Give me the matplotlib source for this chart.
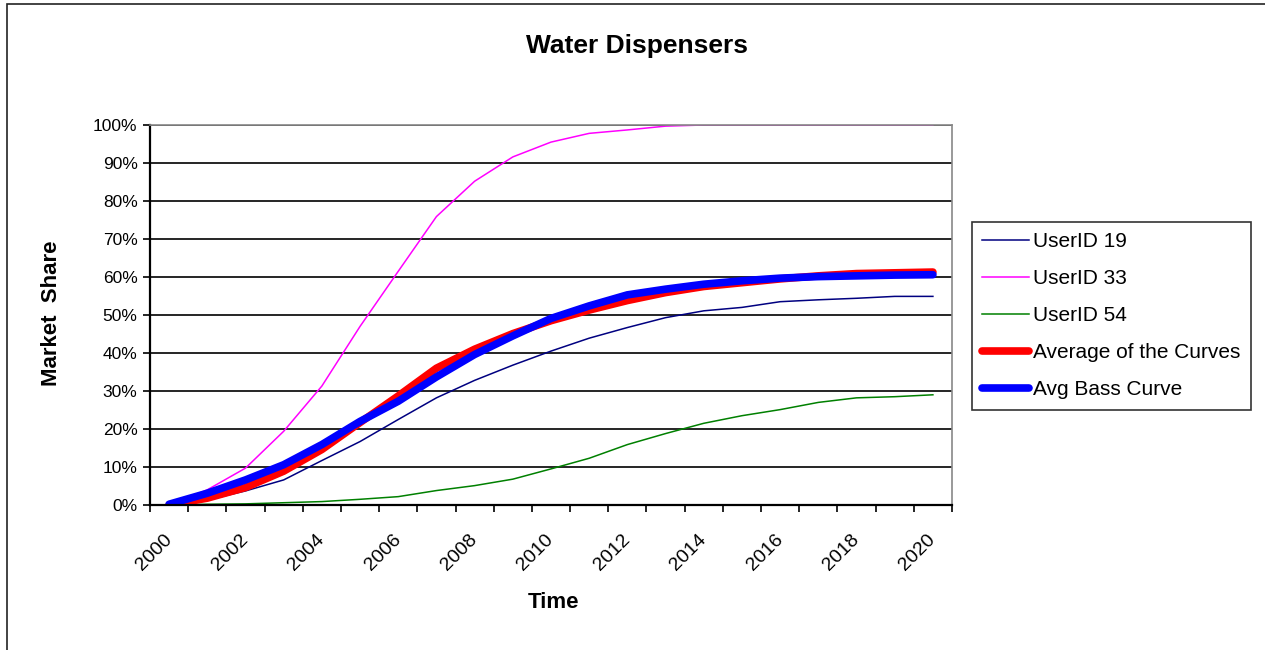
import numpy as np
import matplotlib
matplotlib.use("Agg")
import matplotlib.pyplot as plt
from matplotlib.patches import Rectangle
from matplotlib.ticker import PercentFormatter

plt.rcParams['font.family'] = ['Liberation Sans', 'DejaVu Sans']

years = list(range(2000, 2021))

user19 = [0.0, 1.3, 3.7, 6.6, 11.7, 16.7, 22.5, 28.2, 32.8, 36.8, 40.5,
          43.9, 46.7, 49.3, 51.1, 52.0, 53.5, 54.0, 54.4, 54.9, 54.9]
user33 = [0.0, 4.0, 9.7, 19.4, 31.3, 47.0, 61.5, 75.9, 85.2, 91.6, 95.5,
          97.8, 98.7, 99.7, 100.0, 100.0, 100.0, 100.0, 100.0, 100.0, 100.0]
user54 = [0.0, 0.2, 0.3, 0.6, 0.9, 1.5, 2.2, 3.8, 5.1, 6.8, 9.5,
          12.3, 15.9, 18.8, 21.5, 23.5, 25.1, 27.0, 28.2, 28.5, 29.0]
avg_curves = [0.0, 1.8, 4.6, 8.9, 14.6, 21.7, 28.7, 36.0, 41.0, 45.1, 48.5,
              51.3, 53.8, 55.9, 57.5, 58.5, 59.5, 60.3, 60.9, 61.1, 61.3]
avg_bass = [0.2, 3.1, 6.6, 10.6, 15.9, 22.0, 27.3, 33.7, 39.6, 44.5, 49.1,
            52.4, 55.3, 56.8, 58.1, 59.0, 59.7, 60.1, 60.3, 60.5, 60.6]

W, H = 1265, 650
fig = plt.figure(figsize=(W / 100, H / 100), dpi=100)
fig.patch.set_facecolor('white')

# outer chart border (Excel chart area)
fig.patches.append(Rectangle((7 / W, -0.1), 2, 1 - 3.5 / H + 0.1, transform=fig.transFigure,
                             fill=False, ec='#222222', lw=1.2, clip_on=False))

ax = fig.add_axes([150 / W, (H - 505) / H, 802 / W, 380 / H])
x = np.arange(len(years))

ax.plot(x, user19, color='#000080', lw=1.1, label='UserID 19')
ax.plot(x, user33, color='#FF00FF', lw=1.1, label='UserID 33')
ax.plot(x, user54, color='#008000', lw=1.1, label='UserID 54')
ax.plot(x, avg_curves, color='#FF0000', lw=5.5, solid_capstyle='round',
        solid_joinstyle='round', label='Average of the Curves')
ax.plot(x, avg_bass, color='#0000FF', lw=5.5, solid_capstyle='round',
        solid_joinstyle='round', label='Avg Bass Curve')

ax.set_xlim(-0.5, len(years) - 0.5)
ax.set_ylim(0, 100)
ax.set_yticks(np.arange(0, 101, 10))
ax.yaxis.set_major_formatter(PercentFormatter(decimals=0))
ax.tick_params(axis='y', labelsize=12.5, length=5, width=1.2, direction='out', pad=4)
ax.yaxis.grid(True, color='black', lw=1.2)
ax.set_axisbelow(True)

# category boundaries get tick marks, labels sit on every other category
ax.set_xticks(np.arange(-0.5, len(years), 1))
ax.set_xticklabels([])
ax.tick_params(axis='x', which='major', length=5, width=1.2, direction='out')
ax.set_xticks(x[::2], minor=True)
ax.set_xticklabels([str(y) for y in years[::2]], minor=True)
ax.tick_params(axis='x', which='minor', length=0, labelsize=14, pad=23)
for lbl in ax.get_xticklabels(minor=True):
    lbl.set_rotation(45)
    lbl.set_ha('right')
    lbl.set_va('center')
    lbl.set_rotation_mode('anchor')

for side in ['top', 'right']:
    ax.spines[side].set_color('#888888')
    ax.spines[side].set_linewidth(1.2)
for side in ['left', 'bottom']:
    ax.spines[side].set_color('black')
    ax.spines[side].set_linewidth(1.6)

fig.text(637 / W, 1 - 46 / H, 'Water Dispensers', ha='center', va='center',
         fontsize=19, fontweight='bold')
fig.text(52 / W, 1 - 313 / H, 'Market  Share', ha='center', va='center',
         rotation=90, fontsize=16, fontweight='bold')
fig.text(553 / W, 1 - 602 / H, 'Time', ha='center', va='center',
         fontsize=16, fontweight='bold')

leg = fig.legend(loc='upper left', bbox_to_anchor=(972 / W, 1 - 222 / H),
                 bbox_transform=fig.transFigure, fontsize=15, frameon=True,
                 fancybox=False, handlelength=2.25, handletextpad=0.2,
                 labelspacing=0.86, borderaxespad=0, borderpad=0.5)
leg.get_frame().set_edgecolor('black')
leg.get_frame().set_linewidth(1.2)

fig.savefig('out.png', dpi=100)
